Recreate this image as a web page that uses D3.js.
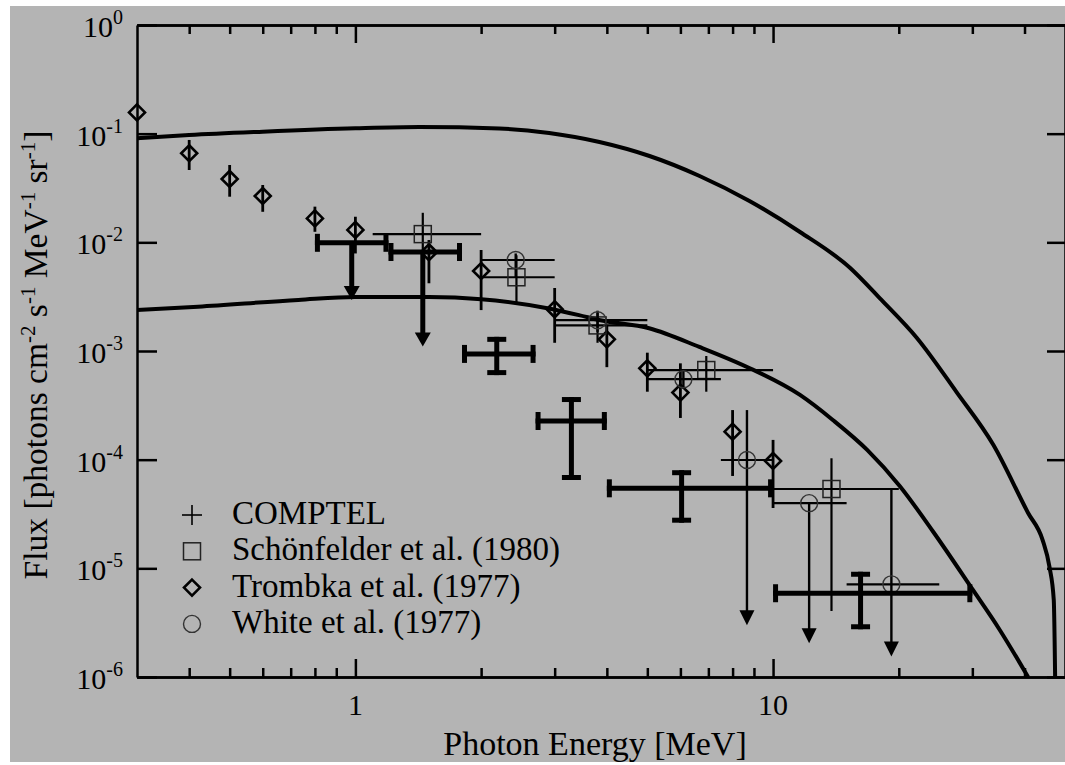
<!DOCTYPE html>
<html>
<head>
<meta charset="utf-8">
<script src="https://cdn.jsdelivr.net/npm/d3@7"></script>
<style>
  body { margin: 0; background: #fff; }
  svg text { font-family: "Palatino Linotype", "Book Antiqua", Palatino, "Liberation Serif", "Times New Roman", serif; fill: #000; }
</style>
</head>
<body>
<div id="vis1"></div>
<script>
// ---- data ----

// COMPTEL (thick crosses, first two are upper limits)
const comptelE     = [0.98, 1.45, 2.18, 3.29, 6.04, 16.2];
const comptelElo   = [0.8, 1.2, 1.8, 2.7, 4.0, 10];
const comptelEhi   = [1.2, 1.8, 2.7, 4.0, 10, 30];
const comptelFlux  = [9.9e-3, 8.15e-3, 9.4e-4, 2.27e-4, 5.45e-5, 5.9e-6];
const comptelLo    = [2.95e-3, 1.1e-3, 6.0e-4, 6.5e-5, 2.63e-5, 2.75e-6];
const comptelHi    = [null, null, 1.35e-3, 3.77e-4, 8.0e-5, 9.3e-6];
const comptelLimit = [true, true, false, false, false, false];

// Schönfelder et al. (1980), squares
const schoenE    = [1.45, 2.43, 3.8, 6.92, 13.8];
const schoenElo  = [1.1, 2.0, 3.0, 5.0, 10];
const schoenEhi  = [2.0, 3.0, 5.0, 10, 20];
const schoenFlux = [0.0119, 4.77e-3, 1.72e-3, 6.68e-4, 5.37e-5];
const schoenLo   = [7.5e-3, 2.8e-3, 1.19e-3, 4.22e-4, 4.05e-6];
const schoenHi   = [0.0187, 7.6e-3, 2.24e-3, 9.0e-4, 1.03e-4];

// Trombka et al. (1977), diamonds
const trombkaE    = [0.3, 0.4, 0.5, 0.6, 0.8, 1.0, 1.5, 2.0, 3.0, 4.0, 5.0, 6.0, 8.0, 10.0];
const trombkaFlux = [0.157, 0.066, 0.0383, 0.0267, 0.0166, 0.013, 8.1e-3, 5.45e-3, 2.42e-3, 1.28e-3, 6.93e-4, 4.14e-4, 1.81e-4, 9.73e-5];
const trombkaLo   = [null, 0.0463, 0.0263, 0.0191, 0.0125, 7.9e-3, 4.2e-3, 2.38e-3, 1.19e-3, 7.1e-4, 4.22e-4, 2.42e-4, 7.08e-5, 3.59e-5];
const trombkaHi   = [null, 0.0875, 0.0515, 0.0337, 0.0213, 0.0172, 0.0105, 8.5e-3, 3.8e-3, 1.74e-3, 9.65e-4, 7.7e-4, 2.86e-4, 1.52e-4];

// White et al. (1977), circles (last three end in arrows)
const whiteE     = [2.42, 3.8, 6.1, 8.66, 12.2, 19.2];
const whiteElo   = [2.0, 3.0, 5.0, 7.5, 10, 15];
const whiteEhi   = [3.0, 5.0, 7.5, 10, 15, 25];
const whiteFlux  = [6.88e-3, 1.92e-3, 5.5e-4, 9.93e-5, 3.98e-5, 7.12e-6];
const whiteLo    = [4.8e-3, 1.5e-3, 4.5e-4, 3.0e-6, 2.04e-6, 1.54e-6];
const whiteHi    = [7.9e-3, 2.35e-3, 6.7e-4, 2.86e-4, null, 5.37e-5];
const whiteArrow = [false, false, false, true, true, true];

// model curves
const upperCurveE    = [0.3, 0.4, 0.6, 1.0, 1.42, 2.21, 2.91, 3.84, 5.06, 6.67, 8.78, 11.6, 15.3, 18.0, 22.1, 27.5, 33.7, 40.8, 44.2, 45.9, 47.0, 47.35];
const upperCurveFlux = [0.0907, 0.0972, 0.1043, 0.112, 0.115, 0.1116, 0.1014, 0.0838, 0.0623, 0.0408, 0.024, 0.01245, 5.81e-3, 3.07e-3, 1.32e-3, 4.19e-4, 1.365e-4, 3.23e-5, 1.82e-5, 1.03e-5, 5.1e-6, 1e-6];
const lowerCurveE    = [0.3, 0.42, 0.73, 1.0, 1.5, 2.0, 2.86, 3.43, 3.83, 5.05, 6.66, 8.77, 11.6, 13.9, 16.8, 20.1, 24.2, 30.1, 34.9, 40.8];
const lowerCurveFlux = [2.38e-3, 2.56e-3, 2.95e-3, 3.14e-3, 3.14e-3, 3.0e-3, 2.49e-3, 2.14e-3, 1.93e-3, 1.62e-3, 1.09e-3, 6.98e-4, 3.94e-4, 2.32e-4, 1.23e-4, 5.73e-5, 2.16e-5, 6.32e-6, 2.71e-6, 1e-6];

// axis ticks
const xMajorTicks = [1, 10];
const xMinorTicks = [0.4, 0.5, 0.6, 0.7, 0.8, 0.9, 2, 3, 4, 5, 6, 7, 8, 9, 20, 30, 40];
const yTicks = [1e-6, 1e-5, 1e-4, 1e-3, 1e-2, 1e-1, 1];
const yTickExp = ['-6', '-5', '-4', '-3', '-2', '-1', '0'];

const legendNames = ['COMPTEL', 'Schönfelder et al. (1980)', 'Trombka et al. (1977)', 'White et al. (1977)'];
const legendSymbols = ['plus', 'square', 'diamond', 'circle'];

// ---- layout ----
let margin = { top: 25, left: 137, right: 0, bottom: 88 },
  width = 1065 - margin.left - margin.right,
  height = 765 - margin.top - margin.bottom;

let svg1 = d3.select('#vis1')
  .append('svg')
  .attr('width', 1065)
  .attr('height', 765);

// grey page
svg1.append('rect')
  .attr('x', 10).attr('y', 6)
  .attr('width', 1055).attr('height', 756)
  .attr('fill', '#b4b4b4');

let xScale = d3.scaleLog().domain([0.3, 50]).range([0, width]);
let yScale = d3.scaleLog().domain([1e-6, 1]).range([height, 0]);

let plot = svg1.append('g')
  .attr('transform', 'translate(' + margin.left + ',' + margin.top + ')');

svg1.append('defs').append('clipPath').attr('id', 'clip')
  .append('rect').attr('width', width).attr('height', height);

// ---- axes (ticks point inward) ----
function styleAxis(g) {
  g.select('.domain').attr('stroke', '#000').attr('stroke-width', 2.5);
  g.selectAll('.tick line').attr('stroke', '#000').attr('stroke-width', 2.5);
  g.selectAll('.tick text').remove();
}

plot.append('g')
  .attr('transform', 'translate(0,' + height + ')')
  .call(d3.axisBottom(xScale).tickValues(xMajorTicks).tickSize(-18).tickSizeOuter(0))
  .call(styleAxis);
plot.append('g')
  .attr('transform', 'translate(0,' + height + ')')
  .call(d3.axisBottom(xScale).tickValues(xMinorTicks).tickSize(-9).tickSizeOuter(0))
  .call(styleAxis);
plot.append('g')
  .call(d3.axisTop(xScale).tickValues(xMajorTicks).tickSize(-18).tickSizeOuter(0))
  .call(styleAxis);
plot.append('g')
  .call(d3.axisTop(xScale).tickValues(xMinorTicks).tickSize(-9).tickSizeOuter(0))
  .call(styleAxis);
plot.append('g')
  .call(d3.axisLeft(yScale).tickValues(yTicks).tickSize(-20).tickSizeOuter(0))
  .call(styleAxis);
plot.append('g')
  .attr('transform', 'translate(' + width + ',0)')
  .call(d3.axisRight(yScale).tickValues(yTicks).tickSize(-18).tickSizeOuter(0))
  .call(styleAxis);

// x tick labels
plot.selectAll('.xlab')
  .data(xMajorTicks)
  .enter().append('text')
  .attr('x', d => xScale(d))
  .attr('y', height + 38)
  .attr('text-anchor', 'middle')
  .style('font-size', '30px')
  .text(d => d);

// y tick labels 10^n
let ylab = plot.selectAll('.ylab')
  .data(yTicks)
  .enter().append('text')
  .attr('x', -14)
  .attr('y', d => yScale(d) + 12)
  .attr('text-anchor', 'end')
  .style('font-size', '30px');
ylab.append('tspan').text('10');
ylab.append('tspan')
  .attr('dy', -13)
  .style('font-size', '20px')
  .text((d, i) => yTickExp[i]);

// axis titles
svg1.append('text')
  .attr('x', margin.left + width / 2 - 6)
  .attr('y', 755)
  .attr('text-anchor', 'middle')
  .style('font-size', '34px')
  .text('Photon Energy [MeV]');

let ytitle = svg1.append('g')
  .attr('transform', 'translate(47,355)')
  .append('text')
  .attr('text-anchor', 'middle')
  .attr('transform', 'rotate(-90)')
  .style('font-size', '33.5px');
const titleParts = [['Flux [photons cm', ''], ['-2', 'sup'], [' s', ''], ['-1', 'sup'], [' MeV', ''], ['-1', 'sup'], [' sr', ''], ['-1', 'sup'], [']', '']];
let prevSup = false;
titleParts.forEach(function(p) {
  let t = ytitle.append('tspan').text(p[0]);
  if (p[1] === 'sup') {
    t.attr('dy', -12).style('font-size', '21px');
    prevSup = true;
  } else if (prevSup) {
    t.attr('dy', 12);
    prevSup = false;
  }
});

// ---- model curves ----
let curveLine = d3.line()
  .x(d => xScale(d[0]))
  .y(d => yScale(d[1]))
  .curve(d3.curveMonotoneX);

let curves = plot.append('g').attr('clip-path', 'url(#clip)');
[[upperCurveE, upperCurveFlux], [lowerCurveE, lowerCurveFlux]].forEach(function(c) {
  curves.append('path')
    .datum(c[0].map((e, i) => [e, c[1][i]]))
    .attr('d', curveLine)
    .attr('fill', 'none')
    .attr('stroke', '#000')
    .attr('stroke-width', 4);
});

// ---- helpers for marks ----
function hLine(g, x1, x2, y, w) {
  g.append('line').attr('x1', x1).attr('x2', x2).attr('y1', y).attr('y2', y)
    .attr('stroke', '#000').attr('stroke-width', w);
}
function vLine(g, x, y1, y2, w) {
  g.append('line').attr('x1', x).attr('x2', x).attr('y1', y1).attr('y2', y2)
    .attr('stroke', '#000').attr('stroke-width', w);
}
function arrowHead(g, x, yTip, w, h) {
  g.append('path')
    .attr('d', 'M' + (x - w / 2) + ',' + (yTip - h) + 'L' + (x + w / 2) + ',' + (yTip - h) + 'L' + x + ',' + yTip + 'Z')
    .attr('fill', '#000');
}
function drawSymbol(g, type, cx, cy) {
  if (type === 'square') {
    g.append('rect').attr('x', cx - 8.5).attr('y', cy - 8.5).attr('width', 17).attr('height', 17)
      .attr('fill', 'none').attr('stroke', '#222').attr('stroke-width', 1.5);
  } else if (type === 'diamond') {
    g.append('path')
      .attr('d', 'M' + cx + ',' + (cy - 8) + 'L' + (cx + 8) + ',' + cy + 'L' + cx + ',' + (cy + 8) + 'L' + (cx - 8) + ',' + cy + 'Z')
      .attr('fill', 'none').attr('stroke', '#000').attr('stroke-width', 2.6);
  } else if (type === 'circle') {
    g.append('circle').attr('cx', cx).attr('cy', cy).attr('r', 8.5)
      .attr('fill', 'none').attr('stroke', '#333').attr('stroke-width', 1.4);
  } else if (type === 'plus') {
    hLine(g, cx - 10, cx + 10, cy, 1.6);
    vLine(g, cx, cy - 10, cy + 10, 1.6);
  }
}

let marks = plot.append('g');

// Trombka: vertical error bars + diamonds
trombkaE.forEach(function(e, i) {
  let cx = xScale(e), cy = yScale(trombkaFlux[i]);
  if (trombkaLo[i] !== null) vLine(marks, cx, yScale(trombkaHi[i]), yScale(trombkaLo[i]), 2.8);
  drawSymbol(marks, 'diamond', cx, cy);
});

// Schönfelder: horizontal + vertical bars + squares
schoenE.forEach(function(e, i) {
  let cx = xScale(e), cy = yScale(schoenFlux[i]);
  hLine(marks, xScale(schoenElo[i]), xScale(schoenEhi[i]), cy, 2.2);
  vLine(marks, cx, yScale(schoenHi[i]), yScale(schoenLo[i]), 2.2);
  drawSymbol(marks, 'square', cx, cy);
});

// White: bars, circles, arrows for limits
whiteE.forEach(function(e, i) {
  let cx = xScale(e), cy = yScale(whiteFlux[i]);
  hLine(marks, xScale(whiteElo[i]), xScale(whiteEhi[i]), cy, 2.2);
  let top = whiteHi[i] !== null ? yScale(whiteHi[i]) : cy;
  vLine(marks, cx, top, yScale(whiteLo[i]) - (whiteArrow[i] ? 10 : 0), 2.4);
  if (whiteArrow[i]) arrowHead(marks, cx, yScale(whiteLo[i]), 15, 15);
  drawSymbol(marks, 'circle', cx, cy);
});

// COMPTEL: thick bars with end caps
comptelE.forEach(function(e, i) {
  let cx = xScale(e), cy = yScale(comptelFlux[i]);
  let x1 = xScale(comptelElo[i]), x2 = xScale(comptelEhi[i]);
  hLine(marks, x1, x2, cy, 5);
  vLine(marks, x1 + 2.5, cy - 9, cy + 9, 5);
  vLine(marks, x2 - 2.5, cy - 9, cy + 9, 5);
  if (comptelLimit[i]) {
    vLine(marks, cx, cy, yScale(comptelLo[i]) - 10, 5);
    arrowHead(marks, cx, yScale(comptelLo[i]), 16, 14);
  } else {
    let yt = yScale(comptelHi[i]), yb = yScale(comptelLo[i]);
    vLine(marks, cx, yt, yb, 5);
    hLine(marks, cx - 9.5, cx + 9.5, yt + 2.5, 5);
    hLine(marks, cx - 9.5, cx + 9.5, yb - 2.5, 5);
  }
});

// ---- legend ----
let legend = svg1.append('g');
legendNames.forEach(function(name, i) {
  let ly = 515 + i * 36.3;
  drawSymbol(legend, legendSymbols[i], 192, ly);
  legend.append('text')
    .attr('x', 232)
    .attr('y', ly + 9)
    .style('font-size', '33px')
    .text(name);
});
</script>
</body>
</html>
